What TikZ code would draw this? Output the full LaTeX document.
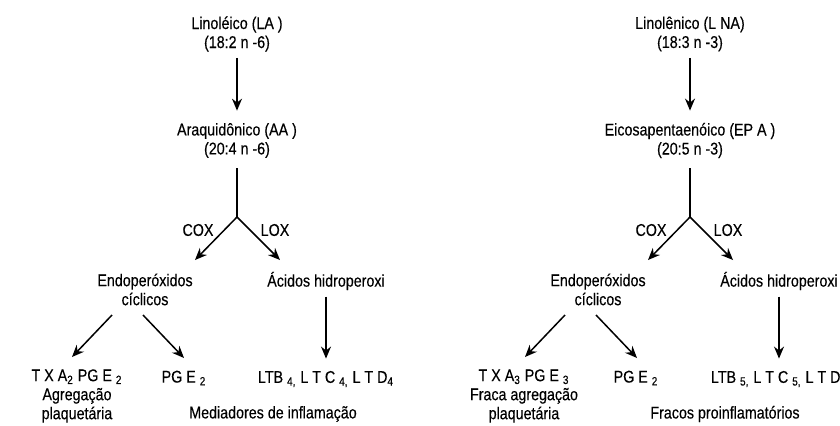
\documentclass[tikz,border=0pt]{standalone}
\usepackage{fontspec}
\setmainfont{Liberation Sans}[FakeStretch=0.84, FakeBold=0.3]
\usetikzlibrary{arrows.meta}
\newcommand{\sub}[1]{\textsubscript{#1}}

\begin{document}
\begin{tikzpicture}[>={Stealth[length=6pt,width=5pt]}, x=0.5pt, y=-0.5pt,
    every node/.style={align=center, inner sep=0pt, font=\fontsize{8.5}{9.5}\selectfont},
    flow/.style={->, line width=0.75pt}]
        \useasboundingbox (0,0) rectangle (840,425);
        % omega-6 column
        \node (la)   at (237,34)    {Linoléico (LA )\\(18:2 n -6)};
        \node (aa)   at (237,140.5) {Araquidônico (AA )\\(20:4 n -6)};
        \coordinate (forkL) at (237,217);
        \coordinate (coxL) at (195,260);
        \coordinate (loxL) at (280,260);
        \node (endoL) at (145,289.5) {Endoperóxidos\\cíclicos};
        \node (acidL) at (326,281)   {Ácidos hidroperoxi};
        \node (txaL)  at (77,396)    {T X A\sub{2} PG E \sub{2}\\Agregação\\plaquetária};
        \node (pgeL)  at (184,378)   {PG E \sub{2}};
        \node (ltbL)  at (326,379)   {LTB \sub{4,} L T C \sub{4,} L T D\sub{4}};
        \node (medL)  at (273,414)   {Mediadores de inflamação};
        \coordinate (e1L) at (112,315);
        \coordinate (t1L) at (72,357);
        \coordinate (e2L) at (143,315);
        \coordinate (t2L) at (184,358);
        \draw[flow, shorten <=3pt, shorten >=6pt] (la) -- (aa);
        \draw[line width=0.75pt, shorten <=5pt] (aa) -- (forkL);
        \draw[flow] (forkL) -- (coxL);
        \draw[flow] (forkL) -- (loxL);
        \draw[flow] (e1L) -- (t1L);
        \draw[flow] (e2L) -- (t2L);
        \draw[flow, shorten <=3pt, shorten >=6pt] (acidL) -- (ltbL);
        % omega-3 column
        \node (lna)  at (690,34)    {Linolênico (L NA)\\(18:3 n -3)};
        \node (epa)  at (690,140.5) {Eicosapentaenóico (EP A )\\(20:5 n -3)};
        \coordinate (forkR) at (690,217);
        \coordinate (coxR) at (648,260);
        \coordinate (loxR) at (733,260);
        \node (endoR) at (598,289.5) {Endoperóxidos\\cíclicos};
        \node (acidR) at (779,281)   {Ácidos hidroperoxi};
        \node (txaR)  at (524,396)   {T X A\sub{3} PG E \sub{3}\\Fraca agregação\\plaquetária};
        \node (pgeR)  at (636,378)   {PG E \sub{2}};
        \node (ltbR)  at (779,379)   {LTB \sub{5,} L T C \sub{5,} L T D\sub{5}};
        \node (medR)  at (725,414)   {Fracos proinflamatórios};
        \coordinate (e1R) at (565,315);
        \coordinate (t1R) at (525,357);
        \coordinate (e2R) at (596,315);
        \coordinate (t2R) at (637,358);
        \draw[flow, shorten <=3pt, shorten >=6pt] (lna) -- (epa);
        \draw[line width=0.75pt, shorten <=5pt] (epa) -- (forkR);
        \draw[flow] (forkR) -- (coxR);
        \draw[flow] (forkR) -- (loxR);
        \draw[flow] (e1R) -- (t1R);
        \draw[flow] (e2R) -- (t2R);
        \draw[flow, shorten <=3pt, shorten >=6pt] (acidR) -- (ltbR);
        % enzyme labels
        \node (coxlabL) at (198,230) {COX};
        \node (loxlabL) at (275,230) {LOX};
        \node (coxlabR) at (651,230) {COX};
        \node (loxlabR) at (728,230) {LOX};
    \end{tikzpicture}
\end{document}
